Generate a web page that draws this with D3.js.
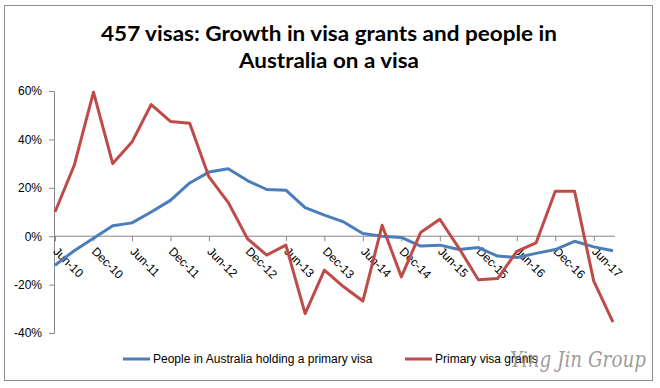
<!DOCTYPE html>
<html>
<head>
<meta charset="utf-8">
<script src="https://cdn.jsdelivr.net/npm/d3@7/dist/d3.min.js"></script>
<style>
  html, body { margin: 0; padding: 0; background: #fff; }
  svg { display: block; }
</style>
</head>
<body>
<svg id="chart" width="660" height="388"></svg>
<script>
// ---- DATA ----
const categories = [
  "Jun-10","Sep-10","Dec-10","Mar-11","Jun-11","Sep-11","Dec-11","Mar-12",
  "Jun-12","Sep-12","Dec-12","Mar-13","Jun-13","Sep-13","Dec-13","Mar-14",
  "Jun-14","Sep-14","Dec-14","Mar-15","Jun-15","Sep-15","Dec-15","Mar-16",
  "Jun-16","Sep-16","Dec-16","Mar-17","Jun-17","Sep-17"
];
const peopleHolding = [
  -12, -6, -0.8, 4.3, 5.5, 10, 14.8, 22, 26.5, 27.9,
  23, 19.3, 19, 11.8, 8.7, 5.9, 1.1, 0, -0.5, -4.1,
  -3.7, -5.5, -4.7, -8.2, -8.8, -7.1, -5.5, -2.1, -4.4, -6
];
const visaGrants = [
  10, 29.3, 59.5, 30, 38.9, 54.4, 47.4, 46.7, 24.5, 14,
  -1, -7.8, -3.7, -32, -14, -20.9, -26.8, 4.5, -16.8, 1.5,
  7, -5, -18, -17.5, -6.3, -2.8, 18.6, 18.6, -18.6, -35.5
];
const yTicks = [-40, -20, 0, 20, 40, 60];
const seriesNames = ["People in Australia holding a primary visa", "Primary visa grants"];
const titleLines = ["457 visas: Growth in visa grants and people in", "Australia on a visa"];
const watermark = "Ying Jin Group";

// ---- CHART ----
const svg = d3.select("#chart");
const colors = ["#4A7EBB", "#BE4B48"];
const axisColor = "#868686";
const labelFont = "'Liberation Sans', Arial, sans-serif";

// outer border
svg.append("rect").attr("x", 4.5).attr("y", 5.5).attr("width", 648).attr("height", 375)
  .attr("fill", "#fff").attr("stroke", "#8c8c8c").attr("stroke-width", 1);

// title
const titleW = [456, 180];
titleLines.forEach((t, i) => {
  svg.append("text")
    .attr("x", 329).attr("y", 41 + i * 27)
    .attr("text-anchor", "middle")
    .attr("font-family", "Lato, 'Open Sans', sans-serif")
    .attr("font-weight", "bold")
    .attr("font-size", 20)
    .attr("fill", "#000")
    .attr("textLength", titleW[i])
    .attr("lengthAdjust", "spacingAndGlyphs")
    .text(t);
});

const x = d3.scalePoint().domain(categories).range([55, 613]);
const y = d3.scaleLinear().domain([-40, 60]).range([333, 91]);

// y axis
const yAxis = svg.append("g").attr("transform", "translate(54,0)")
  .call(d3.axisLeft(y).tickValues(yTicks).tickFormat(d => d + "%").tickSize(5).tickSizeOuter(0));
yAxis.select(".domain").attr("stroke", axisColor);
yAxis.selectAll(".tick line").attr("stroke", axisColor);
yAxis.selectAll(".tick text").attr("font-family", labelFont).attr("font-size", 12)
  .attr("fill", "#000").attr("x", -12);

// x axis at 0
const xAxis = svg.append("g").attr("transform", `translate(0,${y(0)})`)
  .call(d3.axisBottom(x).tickValues(categories.filter((d, i) => i % 2 === 0)).tickSize(5).tickSizeOuter(0));
xAxis.select(".domain").remove();
xAxis.append("line").attr("x1", x(categories[0]) - 1).attr("x2", x(categories[categories.length - 1]) + 2)
  .attr("stroke", axisColor);
xAxis.selectAll(".tick line").attr("stroke", axisColor);
xAxis.selectAll(".tick text")
  .attr("font-family", labelFont).attr("font-size", 12).attr("fill", "#000")
  .attr("text-anchor", "start")
  .attr("x", 0).attr("y", 0).attr("dy", 0)
  .attr("transform", "translate(-3,16) rotate(45)");

// lines
const line = d3.line().x((d, i) => x(categories[i])).y(d => y(d));
[peopleHolding, visaGrants].forEach((s, k) => {
  svg.append("path").datum(s)
    .attr("fill", "none").attr("stroke", colors[k]).attr("stroke-width", 3)
    .attr("stroke-linejoin", "round").attr("stroke-linecap", "butt")
    .attr("d", line);
});

// legend
const legendItems = [{x: 123, name: seriesNames[0]}, {x: 405, name: seriesNames[1]}];
legendItems.forEach((it, k) => {
  svg.append("line").attr("x1", it.x).attr("x2", it.x + 27).attr("y1", 359).attr("y2", 359)
    .attr("stroke", colors[k]).attr("stroke-width", 3);
  svg.append("text").attr("x", it.x + 30).attr("y", 363)
    .attr("font-family", labelFont).attr("font-size", 12).attr("fill", "#000")
    .text(it.name);
});

// watermark
svg.append("text").attr("x", 510).attr("y", 367)
  .attr("font-family", "'DejaVu Serif', serif").attr("font-style", "italic")
  .attr("font-size", 23).attr("fill", "#8a8a8a").attr("fill-opacity", 0.85)
  .attr("textLength", 136).attr("lengthAdjust", "spacingAndGlyphs")
  .text(watermark);
</script>
</body>
</html>
